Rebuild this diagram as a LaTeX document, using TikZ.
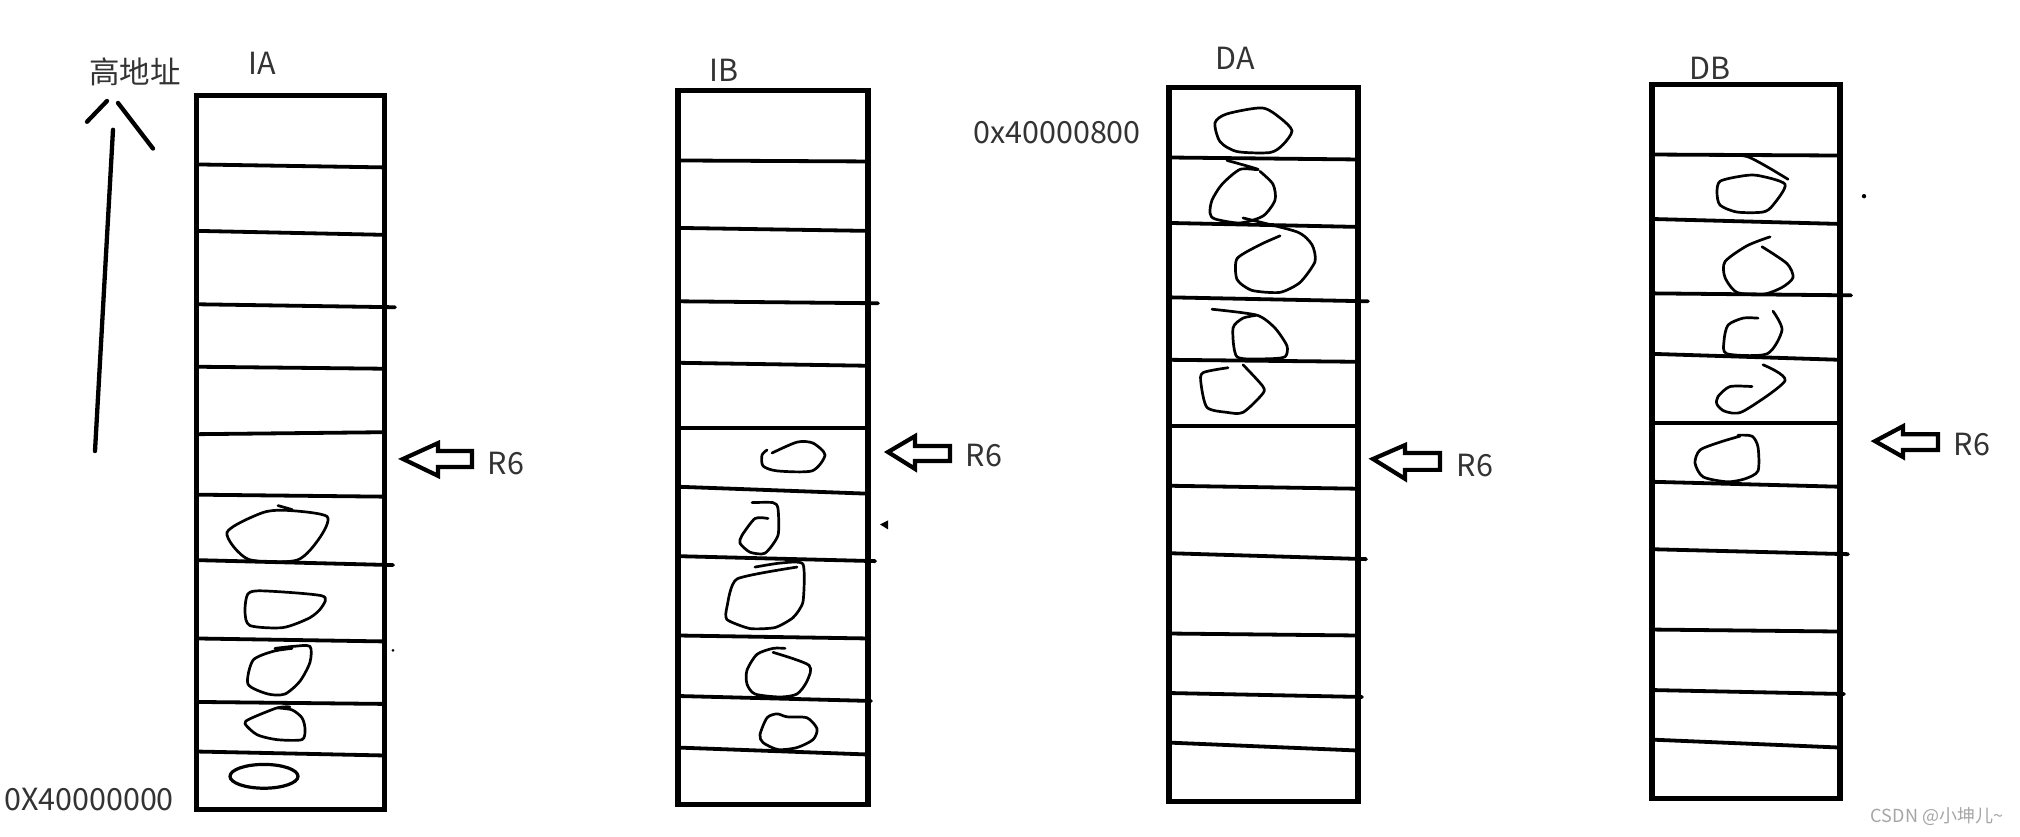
\documentclass[tikz,border=0pt]{standalone}
\usepackage{fontspec}
\setmainfont{Noto Sans CJK SC}
\begin{document}
\begin{tikzpicture}[x=1pt,y=-0.9917pt,
  membox/.style={draw=black,line width=5.5pt,rectangle,inner sep=0pt},
  rowline/.style={line width=3.8pt,line cap=round},
  blob/.style={line width=2.7pt,line cap=round,line join=round},
  blockarrow/.style={line width=4.2pt,line join=miter},
  lbl/.style={text=black!80,font=\fontsize{30.5}{32}\selectfont,inner sep=0pt},
  handline/.style={line width=4.3pt,line cap=round}]
\definecolor{wm}{RGB}{165,165,165}
\useasboundingbox (0,-0.807) rectangle (2020,842.2);

% ---------- address arrow ----------
\coordinate (upS) at (95,454);
\coordinate (upE) at (113,130);
\draw[handline] (upS) -- (upE);
\draw[handline] (87,122) -- (107,101);
\draw[handline] (118,103) -- (153,149);
\node[lbl] (high) at (135,72) {高地址};
\node[lbl] (lowaddr) at (89,805) {0X40000000};
\node[lbl] (daaddr) at (1057,133) {0x40000800};

% ---------- IA ----------
\node[lbl] (IAt) at (262,63) {IA};
\node[membox,minimum width=188pt,minimum height=714pt] (IA) at (290.5,455.5) {};
\foreach \a/\b/\e in {165/168/385,232/236/385,306/309/395,369/371/385,437/435/385,498/500/385,564/569/393,643/646/385,707/709/385,757/761/385}
  \draw[rowline] (197,\a) -- (\e,\b);
\fill (393,655) circle (1.4);
\draw[blob] (278,509) -- (292,513);
\draw[blob] plot[smooth cycle,tension=0.45] coordinates {(227,536) (263,516) (290,514) (327,520) (320,541) (297,564) (248,563)};
\draw[blob] plot[smooth cycle,tension=0.45] coordinates {(248,598) (263,595) (322,600) (322,611) (310,622) (283,632) (250,630) (245,616)};
\draw[blob] plot[smooth,tension=0.45] coordinates {(275,653) (293,651) (310,651) (310,667) (300,686) (285,699) (268,699) (248,689) (253,665) (273,656) (292,653)};
\draw[blob] plot[smooth,tension=0.45] coordinates {(277,713) (292,715) (302,723) (305,734) (302,745) (277,745) (257,740) (245,729) (250,724) (277,713) (290,712)};
\draw[blob,line width=3.2pt] (264,782) ellipse (34 and 12);
\draw[blockarrow] (403,462) -- (438,446) -- (438,454) -- (472,454) -- (472,470) -- (438,470) -- (438,479) -- cycle;
\node[lbl] (R6a) at (506,467) {R6};

% ---------- IB ----------
\node[lbl] (IBt) at (724,70) {IB};
\node[membox,minimum width=190pt,minimum height=714pt] (IB) at (773,450.5) {};
\foreach \a/\b/\e in {161/162/868,229/232/868,303/305/878,365/368/868,431/431/868,490/497/868,560/565/875,640/643/868,701/706/871,753/760/868}
  \draw[rowline] (678,\a) -- (\e,\b);
\fill (880,528) -- (888,524) -- (888,533) -- cycle;
\draw[blob] plot[smooth,tension=0.45] coordinates {(767,453) (762,458) (763,469) (777,474) (812,474) (825,458) (813,446) (797,445) (772,456)};
\draw[blob] plot[smooth,tension=0.4] coordinates {(768,522) (755,522) (742,539) (740,547) (750,556) (765,557) (778,539) (778,512) (773,506) (752,506)};
\draw[blob] plot[smooth,tension=0.35] coordinates {(755,571) (780,567) (803,568) (803,606) (793,622) (775,632) (750,633) (727,624) (727,611) (737,583) (797,571)};
\draw[blob] plot[smooth,tension=0.45] coordinates {(785,653) (773,653) (757,659) (747,675) (747,689) (755,699) (780,702) (797,699) (807,686) (809,670) (773,657)};
\draw[blob] plot[smooth cycle,tension=0.45] coordinates {(767,723) (777,719) (787,722) (807,723) (817,734) (813,745) (797,753) (778,755) (763,748) (760,740)};
\draw[blockarrow] (888,455) -- (915,439) -- (915,449) -- (950,449) -- (950,464) -- (915,464) -- (915,472) -- cycle;
\node[lbl] (R6b) at (984,459) {R6};

% ---------- DA ----------
\node[lbl] (DAt) at (1235,58) {DA};
\node[membox,minimum width=189pt,minimum height=714pt] (DA) at (1263.5,447.5) {};
\foreach \a/\b/\e in {158/160/1358,224/228/1358,299/303/1368,362/364/1358,429/429/1358,489/492/1358,557/563/1366,638/640/1358,698/702/1362,748/756/1358}
  \draw[rowline] (1169,\a) -- (\e,\b);
\draw[blob] plot[smooth cycle,tension=0.45] coordinates {(1215,123) (1227,114) (1262,108) (1280,118) (1292,131) (1283,145) (1270,153) (1237,152) (1220,142)};
\draw[blob] plot[smooth,tension=0.45] coordinates {(1227,161) (1258,170) (1240,170) (1222,185) (1212,201) (1210,214) (1215,220) (1240,224) (1263,217) (1275,201) (1273,185) (1260,172)};
\draw[blob] plot[smooth,tension=0.4] coordinates {(1243,219) (1297,233) (1312,246) (1315,263) (1300,284) (1280,294) (1252,292) (1237,281) (1237,260) (1260,246) (1280,237)};
\draw[blob] plot[smooth,tension=0.4] coordinates {(1212,311) (1257,317) (1275,330) (1287,348) (1285,359) (1267,361) (1237,359) (1233,330) (1243,320) (1257,317)};
\draw[blob] plot[smooth,tension=0.45] coordinates {(1228,370) (1203,375) (1201,386) (1207,410) (1227,415) (1243,415) (1262,397) (1263,389) (1243,367)};
\draw[blockarrow] (1373,462) -- (1405,448) -- (1405,456) -- (1440,456) -- (1440,473) -- (1405,473) -- (1405,482) -- cycle;
\node[lbl] (R6c) at (1475,469) {R6};

% ---------- DB ----------
\node[lbl] (DBt) at (1710,68) {DB};
\node[membox,minimum width=188pt,minimum height=714pt] (DB) at (1746,444.5) {};
\foreach \a/\b/\e in {155/156/1840,220/225/1840,295/297/1851,356/362/1840,426/426/1840,485/490/1840,553/558/1848,634/636/1840,695/699/1844,745/753/1840}
  \draw[rowline] (1652,\a) -- (\e,\b);
\fill (1864,197) circle (2.2);
\draw[blob] plot[smooth,tension=0.4] coordinates {(1710,156) (1747,157) (1788,180)};
\draw[blob] plot[smooth cycle,tension=0.45] coordinates {(1785,185) (1773,206) (1763,213) (1737,213) (1720,206) (1717,193) (1720,182) (1740,177) (1757,176)};
\draw[blob] plot[smooth,tension=0.45] coordinates {(1770,238) (1747,247) (1725,263) (1725,279) (1737,294) (1763,296) (1782,289) (1793,279) (1787,265) (1762,248)};
\draw[blob] plot[smooth,tension=0.45] coordinates {(1758,320) (1743,320) (1728,327) (1724,343) (1727,356) (1767,356) (1782,332) (1773,313)};
\draw[blob] plot[smooth,tension=0.45] coordinates {(1752,389) (1730,389) (1718,399) (1717,407) (1725,414) (1743,414) (1785,383) (1763,367)};
\draw[blob] plot[smooth,tension=0.45] coordinates {(1740,439) (1720,445) (1700,453) (1695,466) (1703,480) (1727,485) (1745,482) (1758,474) (1758,450) (1752,439) (1738,438)};
\draw[blockarrow] (1875,444) -- (1903,429) -- (1903,437) -- (1938,437) -- (1938,453) -- (1903,453) -- (1903,460) -- cycle;
\node[lbl] (R6d) at (1972,447) {R6};

% ---------- watermark ----------
\node[text=wm,font=\fontsize{18}{19}\selectfont,inner sep=0pt] (wmark) at (1937,823) {CSDN @小坤儿\textasciitilde};
\end{tikzpicture}
\end{document}
